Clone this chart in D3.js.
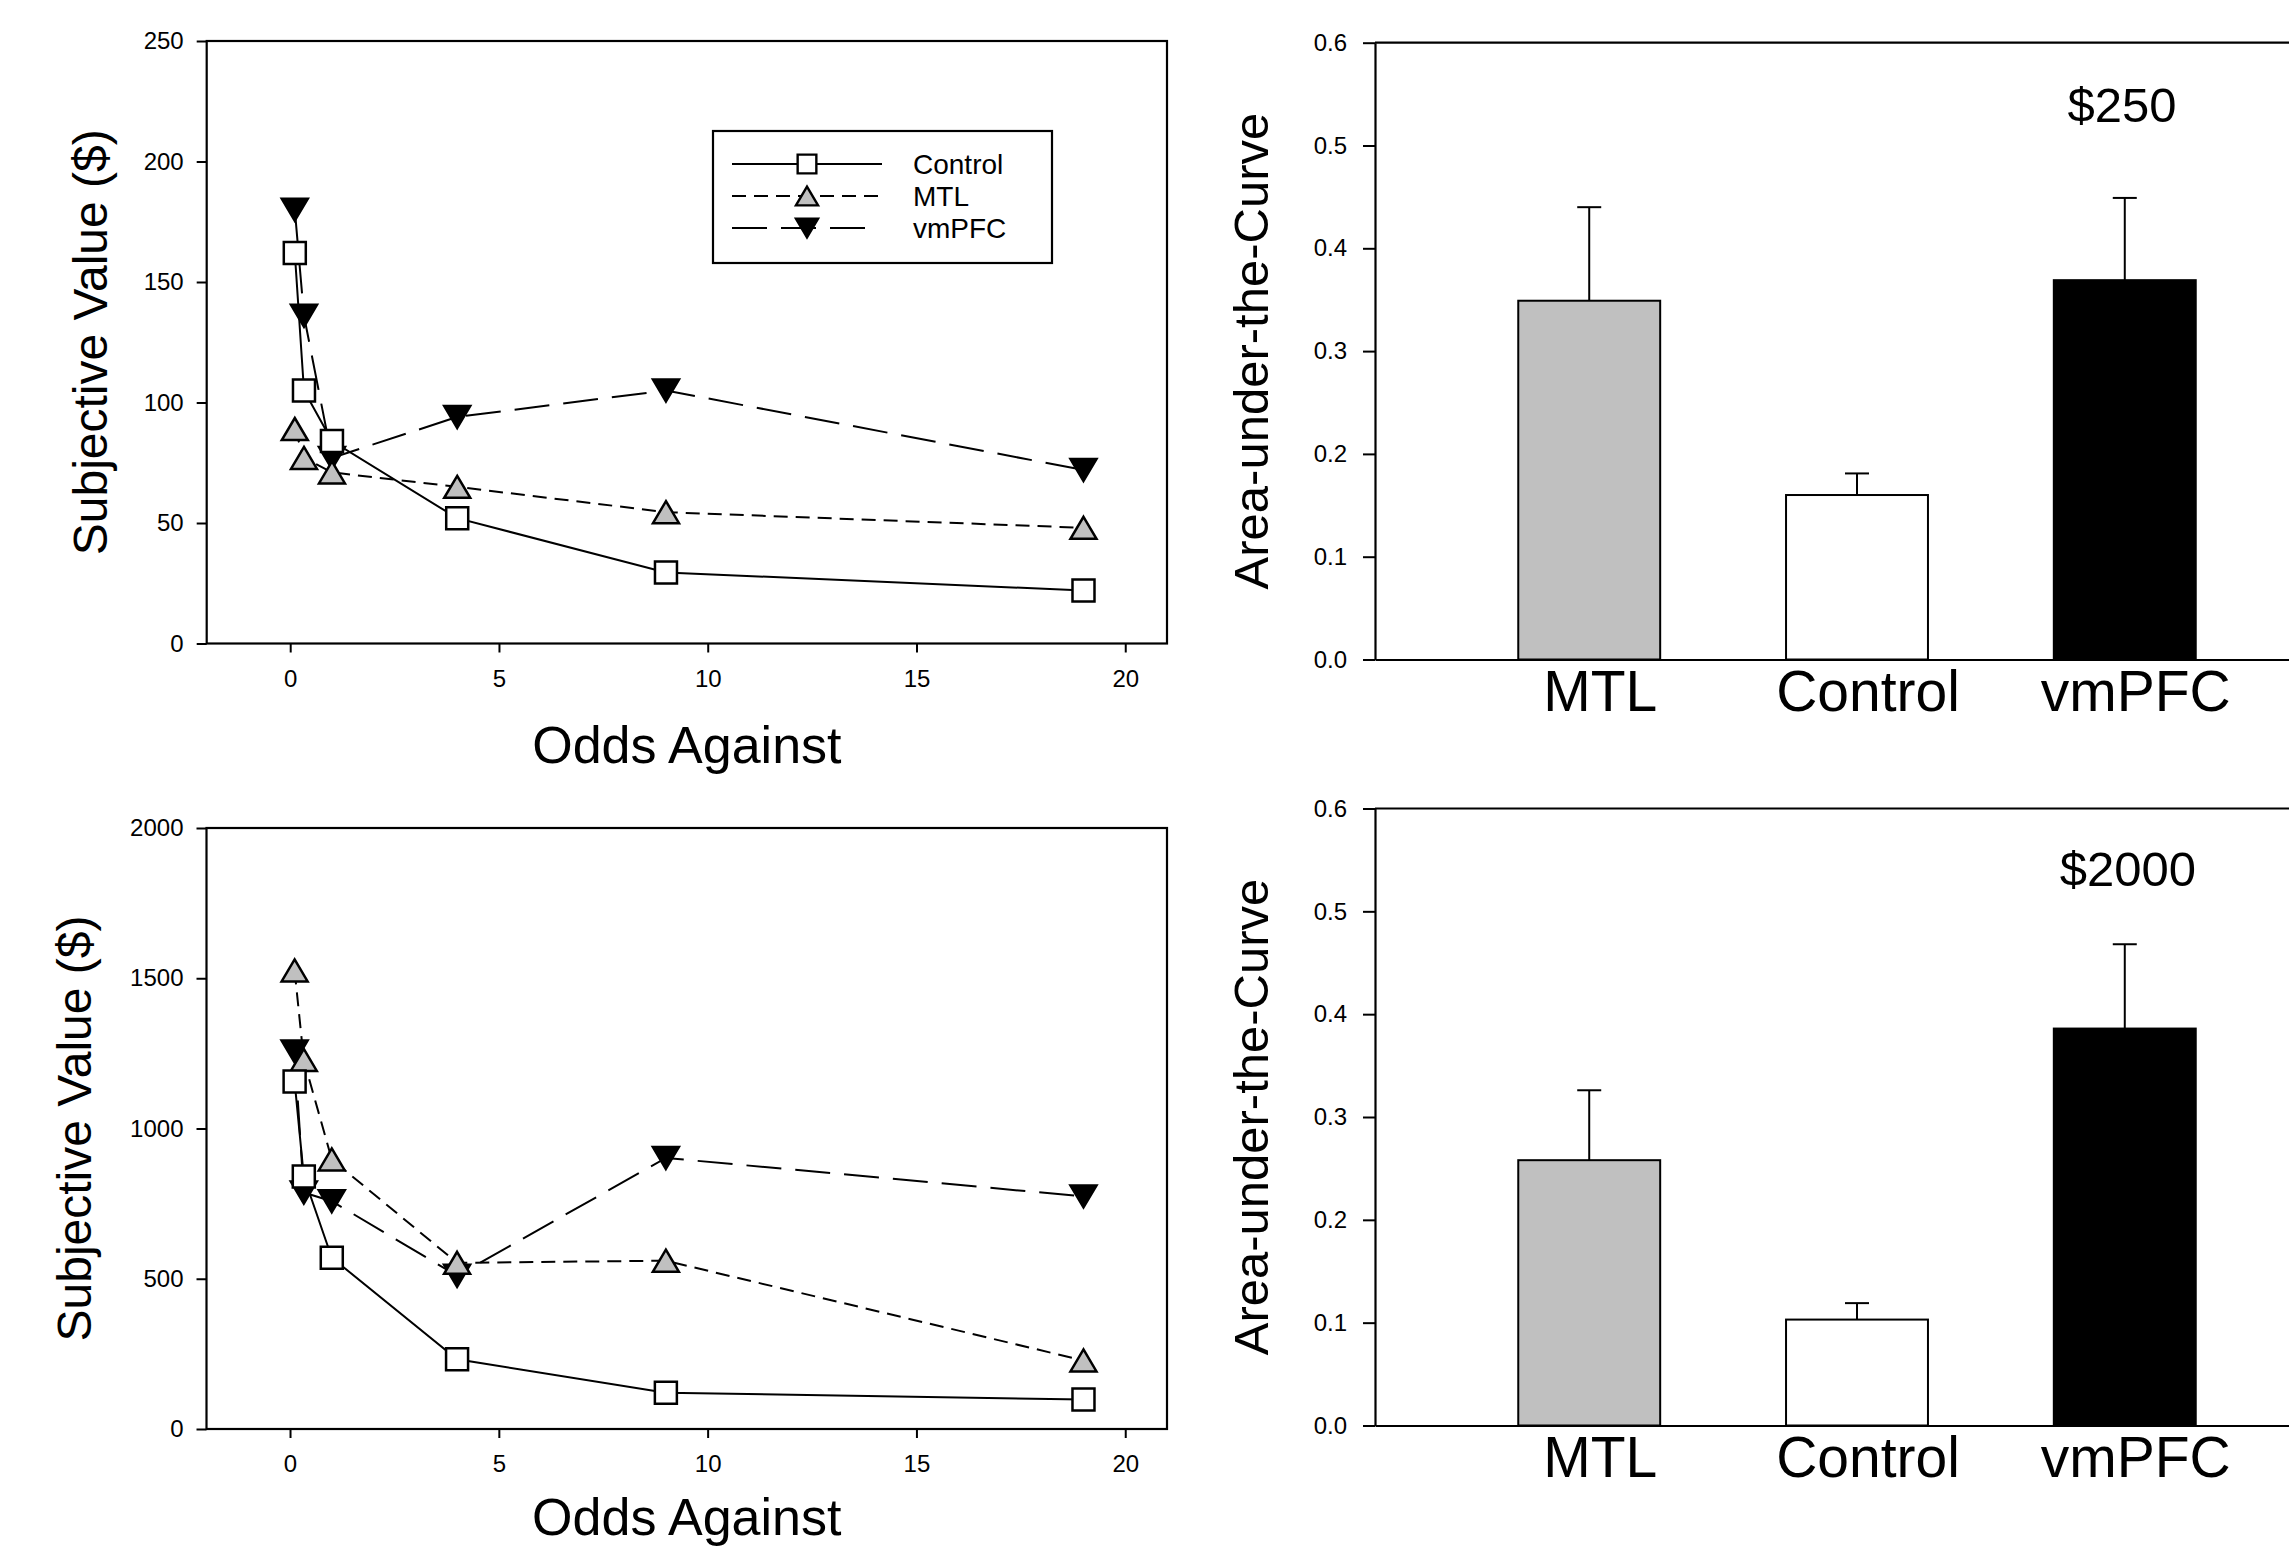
<!DOCTYPE html>
<html>
<head>
<meta charset="utf-8">
<script src="https://cdn.jsdelivr.net/npm/d3@7"></script>
<style>
    body {margin: 0; background: #fff;}
    svg text {font-family: Arial, "Liberation Sans", sans-serif; fill: #000;}
</style>
</head>
<body>
<div id="chart"></div>
<script>
// odds against winning (x) and subjective values
const odds = [0.11, 0.33, 1, 4, 9, 19];
const control250 = [162, 105, 84, 52, 29.5, 22];
const mtl250 = [89, 77, 71, 65, 54.5, 48];
const vmpfc250 = [180, 136, 77, 94, 105, 72];
const control2000 = [1156, 840, 570, 232, 121, 98];
const mtl2000 = [1526, 1228, 897, 553, 560, 228];
const vmpfc2000 = [1256, 787, 758, 510, 902, 774];
const xTicks = [0, 5, 10, 15, 20];
const yTicks250 = [0, 50, 100, 150, 200, 250];
const yTicks2000 = [0, 500, 1000, 1500, 2000];

// area under the curve per group
const groups = ['MTL', 'Control', 'vmPFC'];
const auc250 = [0.349, 0.160, 0.369];
const aucErr250 = [0.091, 0.021, 0.080];
const auc2000 = [0.258, 0.103, 0.386];
const aucErr2000 = [0.068, 0.016, 0.082];
const aucTicks = [0, 0.1, 0.2, 0.3, 0.4, 0.5, 0.6];

const W = 2289, H = 1550;
let svg = d3.select('#chart').append('svg')
    .attr('width', W)
    .attr('height', H);

let seriesStyle = {
    Control: {dash: null, fill: '#fff', shape: 'square', legendEnd: 882},
    MTL: {dash: '14,8', fill: '#c0c0c0', shape: 'up', legendEnd: 882},
    vmPFC: {dash: '35,14', fill: '#000', shape: 'down', legendEnd: 866}
};

let markerPath = (shape) => {
    if (shape === 'square') return 'M-11,-11H11V11H-11Z';
    if (shape === 'up') return 'M0,-11L13,11L-13,11Z';
    return 'M0,11L13,-11L-13,-11Z';
};

let drawLinePanel = ({left, right, top, bottom, yMax, yTicks, series, legend, titleY, ylabX}) => {
    let g = svg.append('g');
    let x = d3.scaleLinear().domain([-2, 21]).range([left, right]);
    let y = d3.scaleLinear().domain([0, yMax]).range([bottom, top]);

    let ax = g.append('g')
        .attr('transform', `translate(0,${bottom})`)
        .call(d3.axisBottom(x).tickValues(xTicks).tickSize(9).tickPadding(17).tickSizeOuter(0));
    let ay = g.append('g')
        .attr('transform', `translate(${left},0)`)
        .call(d3.axisLeft(y).tickValues(yTicks).tickFormat(d3.format('d'))
            .tickSize(10).tickPadding(13).tickSizeOuter(0));
    [ax, ay].forEach(a => {
        a.select('.domain').remove();
        a.selectAll('line').attr('stroke', '#000').attr('stroke-width', 2);
        a.selectAll('text').style('font-size', '24px');
    });

    g.append('rect')
        .attr('x', left).attr('y', top)
        .attr('width', right - left).attr('height', bottom - top)
        .attr('fill', 'none').attr('stroke', '#000').attr('stroke-width', 2.2);

    let line = d3.line().x((d, i) => x(odds[i])).y(d => y(d));
    series.forEach(s => {
        g.append('path')
            .attr('d', line(s.values))
            .attr('fill', 'none')
            .attr('stroke', '#000')
            .attr('stroke-width', 2)
            .attr('stroke-dasharray', seriesStyle[s.name].dash);
    });
    // markers on top, control last
    ['vmPFC', 'MTL', 'Control'].forEach(name => {
        let s = series.find(d => d.name === name);
        g.selectAll(null).data(s.values).enter().append('path')
            .attr('d', markerPath(seriesStyle[name].shape))
            .attr('transform', (d, i) => `translate(${x(odds[i])},${y(d)})`)
            .attr('fill', seriesStyle[name].fill)
            .attr('stroke', '#000')
            .attr('stroke-width', 2.5);
    });

    g.append('text')
        .attr('x', (left + right) / 2)
        .attr('y', bottom + titleY)
        .attr('text-anchor', 'middle')
        .style('font-size', '52px')
        .text('Odds Against');
    g.append('text')
        .attr('transform', `translate(${ylabX},${(top + bottom) / 2}) rotate(-90)`)
        .attr('text-anchor', 'middle')
        .attr('dominant-baseline', 'central')
        .style('font-size', '48px')
        .text('Subjective Value ($)');

    if (legend) {
        let lg = g.append('g');
        lg.append('rect')
            .attr('x', 713).attr('y', 131)
            .attr('width', 339).attr('height', 132)
            .attr('fill', '#fff').attr('stroke', '#000').attr('stroke-width', 2.2);
        ['Control', 'MTL', 'vmPFC'].forEach((name, i) => {
            let ly = 164 + i * 32;
            lg.append('line')
                .attr('x1', 732).attr('x2', seriesStyle[name].legendEnd)
                .attr('y1', ly).attr('y2', ly)
                .attr('stroke', '#000').attr('stroke-width', 2)
                .attr('stroke-dasharray', seriesStyle[name].dash);
            lg.append('path')
                .attr('d', markerPath(seriesStyle[name].shape))
                .attr('transform', `translate(807,${ly}) scale(0.85)`)
                .attr('fill', seriesStyle[name].fill)
                .attr('stroke', '#000').attr('stroke-width', 2.8);
            lg.append('text')
                .attr('x', 913).attr('y', ly)
                .attr('dominant-baseline', 'central')
                .style('font-size', '28px')
                .text(name);
        });
    }
};

let drawBarPanel = ({left, right, top, bottom, values, errors, label, labelX, labelY}) => {
    let g = svg.append('g');
    let x = d3.scaleBand().domain(groups).range([left, right])
        .paddingInner(0.47).paddingOuter(0.535);
    let y = d3.scaleLinear().domain([0, 0.6]).range([bottom, top]);
    let fills = {MTL: '#c0c0c0', Control: '#fff', vmPFC: '#000'};

    let rows = groups.map((name, i) => ({name, v: values[i], e: errors[i]}));

    // error bars (upper only)
    g.selectAll(null).data(rows).enter().append('line')
        .attr('x1', d => x(d.name) + x.bandwidth() / 2)
        .attr('x2', d => x(d.name) + x.bandwidth() / 2)
        .attr('y1', d => y(d.v))
        .attr('y2', d => y(d.v + d.e))
        .attr('stroke', '#000').attr('stroke-width', 2);
    g.selectAll(null).data(rows).enter().append('line')
        .attr('x1', d => x(d.name) + x.bandwidth() / 2 - 12)
        .attr('x2', d => x(d.name) + x.bandwidth() / 2 + 12)
        .attr('y1', d => y(d.v + d.e))
        .attr('y2', d => y(d.v + d.e))
        .attr('stroke', '#000').attr('stroke-width', 2);

    g.selectAll(null).data(rows).enter().append('rect')
        .attr('x', d => x(d.name))
        .attr('y', d => y(d.v))
        .attr('width', x.bandwidth())
        .attr('height', d => y(0) - y(d.v))
        .attr('fill', d => fills[d.name])
        .attr('stroke', '#000').attr('stroke-width', 2);

    let ay = g.append('g')
        .attr('transform', `translate(${left},0)`)
        .call(d3.axisLeft(y).tickValues(aucTicks).tickFormat(d3.format('.1f'))
            .tickSize(12).tickPadding(16).tickSizeOuter(0));
    ay.select('.domain').attr('stroke', '#000').attr('stroke-width', 2.2);
    ay.selectAll('line').attr('stroke', '#000').attr('stroke-width', 2);
    ay.selectAll('text').style('font-size', '24px');

    let ax = g.append('g')
        .attr('transform', `translate(0,${bottom})`)
        .call(d3.axisBottom(x).tickSize(0).tickPadding(11).tickSizeOuter(0));
    ax.select('.domain').attr('stroke', '#000').attr('stroke-width', 2.2);
    ax.selectAll('text').attr('dx', 11).style('font-size', '57px');

    g.append('line')
        .attr('x1', left).attr('x2', right)
        .attr('y1', top).attr('y2', top)
        .attr('stroke', '#000').attr('stroke-width', 2.2);

    g.append('text')
        .attr('x', labelX).attr('y', labelY)
        .attr('text-anchor', 'middle')
        .style('font-size', '49px')
        .text(label);
    g.append('text')
        .attr('transform', `translate(1251,${(top + bottom) / 2}) rotate(-90)`)
        .attr('text-anchor', 'middle')
        .attr('dominant-baseline', 'central')
        .style('font-size', '49px')
        .text('Area-under-the-Curve');
};

drawLinePanel({
    left: 206.7, right: 1167, top: 41, bottom: 643.5,
    yMax: 250, yTicks: yTicks250, titleY: 119, ylabX: 90, legend: true,
    series: [
        {name: 'Control', values: control250},
        {name: 'MTL', values: mtl250},
        {name: 'vmPFC', values: vmpfc250}
    ]
});
drawLinePanel({
    left: 206.5, right: 1167, top: 828, bottom: 1429,
    yMax: 2000, yTicks: yTicks2000, titleY: 106, ylabX: 74, legend: false,
    series: [
        {name: 'Control', values: control2000},
        {name: 'MTL', values: mtl2000},
        {name: 'vmPFC', values: vmpfc2000}
    ]
});
drawBarPanel({
    left: 1375, right: 2339, top: 42.7, bottom: 659.5,
    values: auc250, errors: aucErr250, label: '$250', labelX: 2122, labelY: 122
});
drawBarPanel({
    left: 1375, right: 2339, top: 808.5, bottom: 1425.5,
    values: auc2000, errors: aucErr2000, label: '$2000', labelX: 2128, labelY: 886
});
</script>
</body>
</html>
